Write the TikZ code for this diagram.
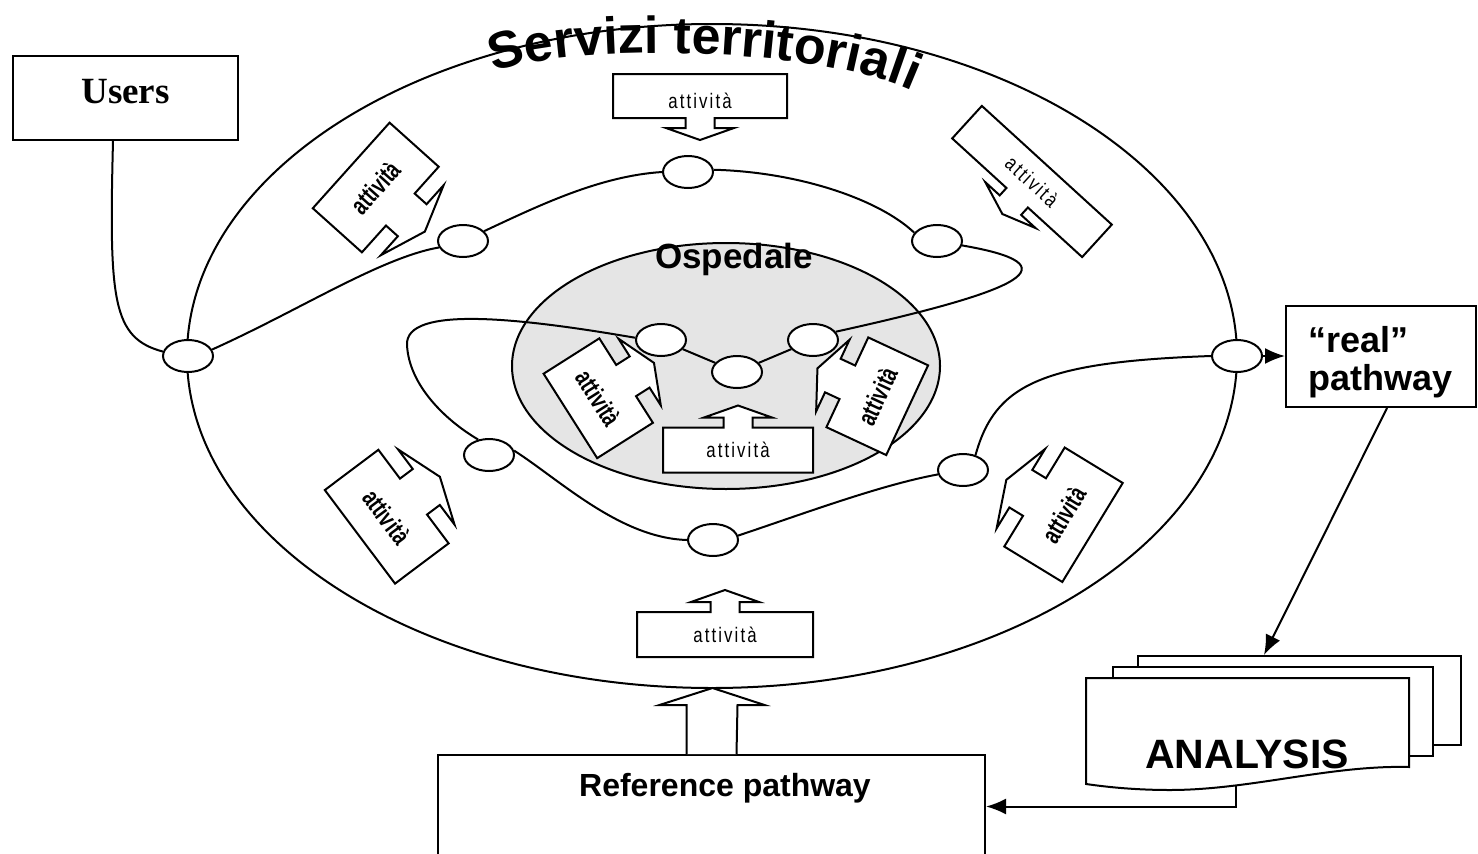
\documentclass[tikz,border=0pt]{standalone}
\usepackage{fontspec}
\setmainfont{Liberation Sans}
\newfontfamily\arialf{Liberation Sans}
\newfontfamily\timesf{Liberation Serif}
\newfontfamily\actf[FakeStretch=0.8,LetterSpace=10]{Liberation Sans}
\newfontfamily\actsqf[FakeStretch=0.72]{Liberation Sans Bold}
\usetikzlibrary{arrows.meta,shapes.geometric,decorations.text}

\tikzset{
  ln/.style={line width=2pt, black},
  hub/.style={ellipse, draw, line width=2pt, fill=white, minimum width=50pt, minimum height=32pt, inner sep=0pt},
  box/.style={draw, line width=2pt, fill=white, inner sep=0pt},
  arr/.style={-{Latex[length=20pt,width=16pt]}},
  acttxt/.style={},
  actW/.store in=\actW, actH/.store in=\actH, actS/.store in=\actS,
  actL/.store in=\actL, actHW/.store in=\actHW, actD/.store in=\actD,
  actSide/.store in=\actSide, actTy/.store in=\actTy,
  actflat/.style={actS=14.5, actL=10, actHW=34, actD=12, actSide=1, actTy=0,
    acttxt/.style={font=\actf\fontsize{21}{21}\selectfont}},
  actsq/.style={actS=21, actL=16, actHW=46, actD=17, actSide=1, actTy=0,
    acttxt/.style={font=\actsqf\fontsize{26}{26}\selectfont}},
}

% block-arrow callout holding the word "attività"
\newcommand\actshape{%
  \begin{scope}[yscale=\actSide]
    \draw[ln, fill=white] (-\actW,-\actH) -- (\actW,-\actH) -- (\actW,\actH)
      -- (\actS,\actH) -- (\actS,\actH+\actL) -- (\actHW,\actH+\actL)
      -- (0,\actH+\actL+\actD) -- (-\actHW,\actH+\actL) -- (-\actS,\actH+\actL)
      -- (-\actS,\actH) -- (-\actW,\actH) -- cycle;
  \end{scope}
  \node[acttxt, transform shape, inner sep=0pt] at (0,\actTy) {attività};}

\begin{document}
\begin{tikzpicture}[x=1pt, y=-1pt]
\useasboundingbox (0,0) rectangle (1478,854);
\clip (0,0) rectangle (1478,854);

% territory and hospital
\draw[ln] (712,356) ellipse [x radius=525, y radius=332];
\draw[ln, fill=black!10] (726,366) ellipse [x radius=214, y radius=123];

% boxes
\node[box, minimum width=225pt, minimum height=84pt] (users) at (125.5,98) {};
\node[box, minimum width=190pt, minimum height=101pt] (real) at (1381,356.5) {};
\node[box, minimum width=547pt, minimum height=103pt] (ref) at (711.5,806.5) {};
\node[box, minimum width=323pt, minimum height=89pt] (anBack) at (1299.5,700.5) {};
\node[box, minimum width=320pt, minimum height=89pt] (anMid) at (1273,711.5) {};
\draw[ln, fill=white] (1086,784) -- (1086,678) -- (1409,678) -- (1409,767)
  .. controls (1330,765) and (1250,790) .. (1170,790)
  .. controls (1130,790) and (1100,786) .. (1086,784) -- cycle;
\coordinate (anOut) at (1236,786);

% hubs of the pathway
\node[hub] (nL)  at (188,356) {};
\node[hub] (nUL) at (463,241) {};
\node[hub] (nT)  at (688,172) {};
\node[hub] (nUR) at (937,241) {};
\node[hub] (nI1) at (661,340) {};
\node[hub] (nI2) at (813,340) {};
\node[hub] (nI3) at (737,372) {};
\node[hub] (nLL) at (489,455) {};
\node[hub] (nB)  at (713,540) {};
\node[hub] (nLR) at (963,470) {};
\node[hub] (nR)  at (1237,356) {};

% the pathway
\draw[ln] ([xshift=-12.5pt]users.south) .. controls (109,300) and (112,338) .. (nL.170);
\draw[ln] (nL.15) .. controls (300,310) and (380,258) .. (nUL.195);
\draw[ln] (nUL.25) .. controls (540,205) and (600,176) .. (nT.180);
\draw[ln] (nT.5) .. controls (800,172) and (880,200) .. (nUR.160);
\draw[ln] (nUR.-10) .. controls (1075,265) and (1025,290) .. (nI2.20);
\draw[ln] (nI2) -- (nI3);
\draw[ln] (nI3) -- (nI1);
\draw[ln] (nI1.175) .. controls (520,318) and (405,305) .. (407,345)
  .. controls (409,385) and (445,420) .. (nLL.125);
\draw[ln] (nLL.10) .. controls (560,480) and (620,538) .. (nB.180);
\draw[ln] (nB.10) .. controls (800,515) and (880,485) .. (nLR.190);
\draw[ln] (nLR.50) .. controls (995,385) and (1040,362) .. (nR.180);
\draw[ln, arr] (nR.east) -- (nR.east -| real.west);
\draw[ln, arr] ([xshift=6pt]real.south) -- ([xshift=127pt]anBack.north west);
\draw[ln, arr] (anOut) |- (ref.east);

% reference pathway feeding the territory
\draw[ln, fill=white] ([xshift=-25pt]ref.north) -- ++(0,-49) -- ++(-27,0)
  -- ++(53,-17) -- ++(52,17) -- ++(-27,0) -- ([xshift=25pt]ref.north);

% activities
\begin{scope}[actflat, actW=87, actH=22, actTy=5, shift={(700,96)}] \actshape \end{scope}
\begin{scope}[actflat, actW=88, actH=22.5, actSide=-1, shift={(725,634.5)}] \actshape \end{scope}
\begin{scope}[actflat, actW=75, actH=22.5, actSide=-1, shift={(738,450)}] \actshape \end{scope}
\begin{scope}[actflat, actW=88, actH=22, shift={(1032,181.5)}, rotate=-42.4] \actshape \end{scope}
\begin{scope}[actsq, actW=57.5, actH=33, actS=21.5, actHW=47, shift={(375.75,187.5)}, rotate=48.1] \actshape \end{scope}
\begin{scope}[actsq, actW=50, actH=33, actS=18.5, actHW=39.5, actSide=-1, shift={(598.25,398.25)}, rotate=-57.6] \actshape \end{scope}
\begin{scope}[actsq, actW=49.5, actH=33, actS=18.5, actHW=39.5, actSide=-1, shift={(877.25,396.25)}, rotate=65] \actshape \end{scope}
\begin{scope}[actsq, actW=58.5, actH=33.5, actS=22.5, actHW=47, actSide=-1, shift={(386.7,516.7)}, rotate=-53.1] \actshape \end{scope}
\begin{scope}[actsq, actW=58, actH=34, actS=22, actHW=46.5, actSide=-1, shift={(1063.5,514.75)}, rotate=58.6] \actshape \end{scope}

% labels
\node[font=\timesf\bfseries\fontsize{37}{37}\selectfont, anchor=base, inner sep=0pt] at (125.5,103) {Users};
\node[font=\arialf\bfseries\fontsize{36}{36}\selectfont, anchor=base west, inner sep=0pt] at (1308,352) {“real”};
\node[font=\arialf\bfseries\fontsize{36}{36}\selectfont, anchor=base west, inner sep=0pt] at (1308,390) {pathway};
\node[font=\arialf\bfseries\fontsize{32}{32}\selectfont, anchor=base, inner sep=0pt] at (725,796) {Reference pathway};
\node[font=\arialf\bfseries\fontsize{41}{41}\selectfont, anchor=base, inner sep=0pt] at (1247,768) {ANALYSIS};
\node[font=\arialf\bfseries\fontsize{35}{35}\selectfont, anchor=base, inner sep=0pt] at (734,268) {Ospedale};
\path[decorate, decoration={text along path, text align=center,
  text={|\arialf\bfseries\fontsize{52}{52}\selectfont|Servizi territoriali}}]
  (488,76) .. controls (540,44) and (815,42) .. (918,94);
\end{tikzpicture}
\end{document}
